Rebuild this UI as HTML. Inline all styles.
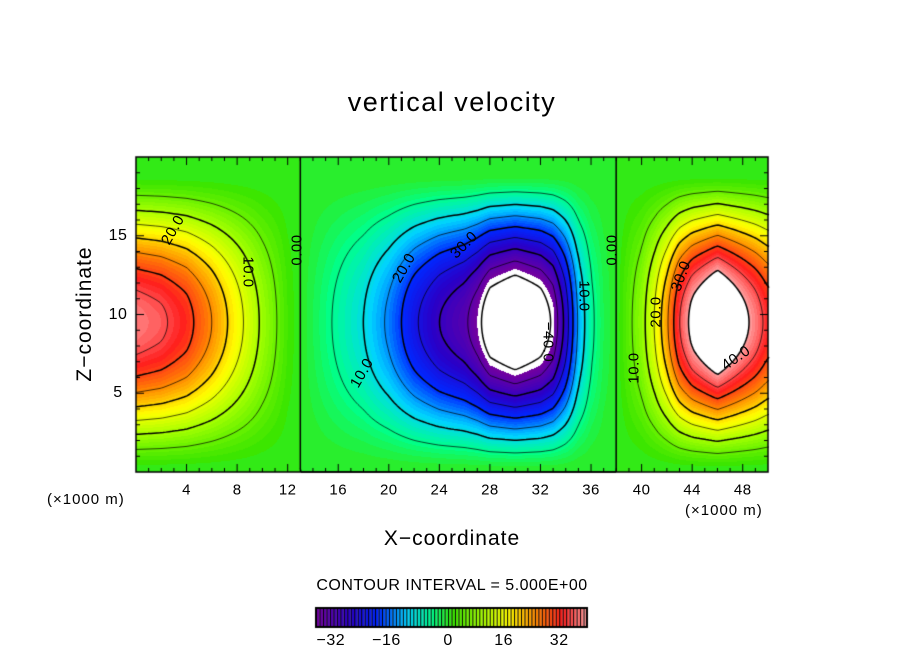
<!DOCTYPE html>
<html><head><meta charset="utf-8"><style>
body{margin:0;background:#fff;width:904px;height:654px;overflow:hidden;position:relative;font-family:"Liberation Sans",sans-serif}
.t{position:absolute;color:#000;white-space:nowrap}
</style></head><body>
<div class="t" style="left:0;width:904px;text-align:center;top:87px;font-size:27px;letter-spacing:1.5px">vertical velocity</div>
<canvas id="cv" width="904" height="654" style="position:absolute;left:0;top:0"></canvas>
<div class="t" style="left:-15px;top:302px;width:200px;text-align:center;font-size:21px;letter-spacing:1px;transform:rotate(-90deg)">Z−coordinate</div>
<div class="t" style="left:0;width:904px;text-align:center;top:527px;font-size:21px;letter-spacing:1px">X−coordinate</div>
<div class="t" style="left:47px;top:491px;font-size:15px;letter-spacing:1px">(×1000 m)</div>
<div class="t" style="left:685px;top:502px;font-size:15px;letter-spacing:1px">(×1000 m)</div>
<div class="t" style="left:0;width:904px;text-align:center;top:577px;font-size:16px;letter-spacing:0.5px">CONTOUR INTERVAL = 5.000E+00</div>
<div id="lbls"></div>
<script>
const profX=[0,2,4,6,8,10,12,13,14,16,18,20,22,24,26,27,28,30,32,33,34,35,36,37,38,40,41,42,43,44,46,48,49,50];
const profW=[38,36,32,25,17,9,2,0,-2,-6,-10,-16,-24,-30,-34,-38,-44,-48,-44,-39,-28,-14,-6,-2,0,8,15,24,35,42,50,42,38,33];
const xTicks=[4,8,12,16,20,24,28,32,36,40,44,48];
const yTicks=[5,10,15];
const cbTicks=[-32,-16,0,16,32];
const X0=136,X1=768,Y0=472,Y1=157;
const sx=x=>X0+x/50*(X1-X0), sy=z=>Y0-z/20*(Y0-Y1);
const vmin=-38,vmax=40;
function prof(x){for(let i=0;i<profX.length-1;i++){if(x<=profX[i+1]){const t=(x-profX[i])/(profX[i+1]-profX[i]);return profW[i]+t*(profW[i+1]-profW[i]);}}return profW[profW.length-1];}
function field(x,z){const e=Math.pow(Math.max(0,Math.sin(Math.PI*Math.min(z,19)/19)),1.4);return prof(x)*e;}
const stops=[[0,[112,0,160]],[0.12,[40,0,200]],[0.22,[0,40,255]],[0.33,[0,210,255]],[0.42,[0,255,140]],[0.5,[60,230,0]],[0.6,[160,255,0]],[0.7,[255,255,0]],[0.8,[255,140,0]],[0.9,[255,30,30]],[1,[255,170,170]]];
function col(v){if(v<vmin||v>vmax)return [255,255,255];v=Math.floor(v);let t=(v-vmin)/(vmax-vmin);for(let i=0;i<stops.length-1;i++){if(t<=stops[i+1][0]){const a=stops[i],b=stops[i+1],u=(t-a[0])/(b[0]-a[0]);return a[1].map((c,k)=>Math.round(c+u*(b[1][k]-c)));}}return stops[stops.length-1][1];}
const cv=document.getElementById('cv'),ctx=cv.getContext('2d');
const W=X1-X0,H=Y0-Y1,img=ctx.createImageData(W,H);
for(let j=0;j<H;j++)for(let i=0;i<W;i++){const x=(i+0.5)/W*50,z=(H-j-0.5)/H*20;const c=col(field(x,z));const p=(j*W+i)*4;img.data[p]=c[0];img.data[p+1]=c[1];img.data[p+2]=c[2];img.data[p+3]=255;}
ctx.putImageData(img,X0,Y0-H);
const st=3,nx=Math.ceil(W/st),ny=Math.ceil(H/st);
const g=[];for(let j=0;j<=ny;j++){g[j]=[];for(let i=0;i<=nx;i++){g[j][i]=field(Math.min(50,i*st/W*50),Math.max(0,20-j*st/H*20));}}
for(let L=-40;L<=40;L+=5){ctx.beginPath();ctx.lineWidth=(L%10===0)?1.5:0.7;ctx.setLineDash(L<0?[4,3]:[]);ctx.strokeStyle='#000';
for(let j=0;j<ny;j++)for(let i=0;i<nx;i++){const v=[g[j][i],g[j][i+1],g[j+1][i+1],g[j+1][i]];const pts=[];const cs=[[0,0],[1,0],[1,1],[0,1]];
for(let k=0;k<4;k++){const a=v[k],b=v[(k+1)%4];if((a<L)!==(b<L)&&a!==b){const t=(L-a)/(b-a);const p=cs[k],q=cs[(k+1)%4];pts.push([X0+(i+p[0]+t*(q[0]-p[0]))*st,Y1+(j+p[1]+t*(q[1]-p[1]))*st]);}}
for(let k=0;k+1<pts.length;k+=2){ctx.moveTo(pts[k][0],pts[k][1]);ctx.lineTo(pts[k+1][0],pts[k+1][1]);}}
ctx.stroke();}
ctx.setLineDash([]);
ctx.lineWidth=1.5;ctx.strokeStyle='#000';ctx.strokeRect(X0,Y1,W,H);
ctx.lineWidth=1;ctx.beginPath();
for(let x=1;x<50;x++){const px=sx(x),l=(x%4===0)?8:4;ctx.moveTo(px,Y0);ctx.lineTo(px,Y0-l);ctx.moveTo(px,Y1);ctx.lineTo(px,Y1+l);}
for(let z=1;z<20;z++){const py=sy(z),l=(z%5===0)?8:4;ctx.moveTo(X0,py);ctx.lineTo(X0+l,py);ctx.moveTo(X1,py);ctx.lineTo(X1-l,py);}
ctx.stroke();
const CB0=316,CB1=587,CBy=608,CBh=19,cbx=v=>CB0+(v-vmin)/(vmax-vmin)*(CB1-CB0);
for(let v=vmin;v<vmax;v++){ctx.fillStyle='rgb('+col(v+0.5).join(',')+')';ctx.fillRect(cbx(v),CBy,cbx(v+1)-cbx(v),CBh);ctx.fillStyle='#000';ctx.fillRect(cbx(v),CBy,1,CBh);}
ctx.lineWidth=2;ctx.strokeRect(CB0,CBy,CB1-CB0,CBh);
const lb=document.getElementById('lbls');
function T(name,txt,x,y,fs,extra){const d=document.createElement('div');d.className='t';d.textContent=txt;


d.style.cssText+=`left:${x}px;top:${y}px;font-size:${fs}px;letter-spacing:0.5px;transform:translate(-50%,-50%) ${extra||''}`;lb.appendChild(d);}
xTicks.forEach(v=>T('x-tick-label',String(v),sx(v),490,15));
yTicks.forEach(v=>T('y-tick-label',String(v),118,sy(v),16));
cbTicks.forEach(v=>T('colorbar-tick-label',(v<0?'−':'')+Math.abs(v),cbx(v)+(v<0?-6:0),641,16));
const cl=[["20.0",173,230,-60],["10.0",248,272,90],["0.00",297,250,-90],["20.0",404,268,-60],["30.0",464,245,-45],["10.0",362,373,-60],["−40.0",548,342,90],["10.0",584,296,90],["0.00",612,250,-90],["10.0",634,368,-90],["20.0",656,312,-90],["30.0",681,276,-70],["40.0",736,358,-35]];
cl.forEach(c=>T('contour-label',c[0],c[1],c[2],15,`rotate(${c[3]}deg)`));
</script>
</body></html>
